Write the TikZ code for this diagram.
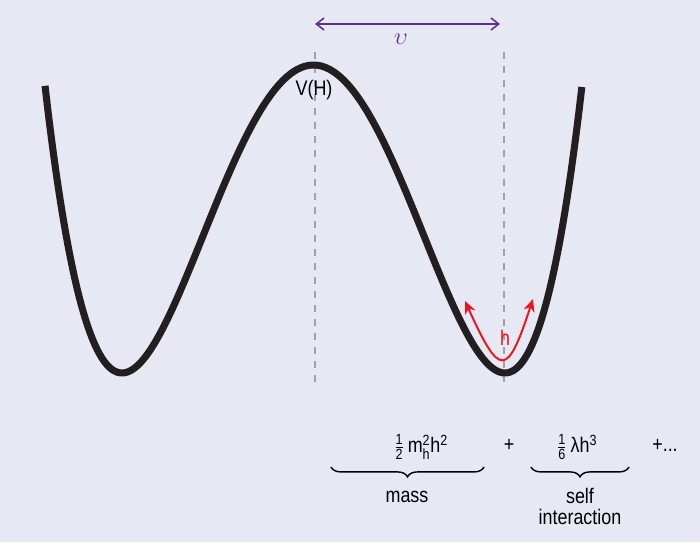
\documentclass[tikz,border=0pt]{standalone}
\usepackage{amsmath}
\usepackage{fontspec}
\setmainfont[FakeStretch=0.85]{Liberation Sans}
\usetikzlibrary{calc}
\usetikzlibrary{arrows.meta}
\usetikzlibrary{decorations.pathreplacing}

\definecolor{bgpaper}{RGB}{230,232,244}
\definecolor{vevpurple}{RGB}{93,46,140}
\definecolor{hred}{RGB}{235,22,28}
\definecolor{guidegray}{RGB}{160,161,172}
\definecolor{potblack}{RGB}{35,31,32}

\begin{document}
\begin{tikzpicture} [x=0.025cm, y=-0.025cm,
  guide/.style={guidegray, line width=1pt, dash pattern=on 5pt off 5pt},
  brc/.style={decorate, decoration={brace, mirror, amplitude=7pt}, line width=1pt},
  txt/.style={font=\fontsize{15}{15}\selectfont, inner sep=0pt}]
\fill[bgpaper] (0,0) rectangle (700,542);
\useasboundingbox (0,0) rectangle (700,542);

\foreach \gx in {315, 504}
\draw[guide] (\gx,52) -- (\gx,382);

\draw[domain=-1.402:1.402, samples=150, smooth, variable=\u, potblack, line width=5pt]
plot ({313.5+191.5*\u},{373-308*(\u*\u-1)^2});

\coordinate (vevl) at (315,24);
\coordinate (vevr) at (500,24);
\draw[vevpurple, line width=1.1pt, {Straight Barb[length=5.5pt,width=8.5pt]}-{Straight Barb[length=5.5pt,width=8.5pt]}] (vevl) -- (vevr);
\node[txt, vevpurple, font=\fontsize{19}{19}\selectfont] (vev) at (401,39) {$\upsilon$};
\node[txt] (pot) at (314,90) {V(H)};

\coordinate (htipl) at (465,301);
\coordinate (htipr) at (533,299);
\draw[hred, line width=1.4pt, {Stealth[length=9pt,width=8pt]}-{Stealth[length=9pt,width=8pt]}]
(htipl) .. controls (500,378) and (507,378) .. (htipr);
\node[txt, hred] (hlab) at (505,338) {h};

\node[txt] (massterm) at (421,447) {$\frac{\text{1}}{\text{2}}$\,m$^{\text{2}}_{\text{h}}$h$^{\text{2}}$};
\node[txt] (plusa) at (509,445) {+};
\node[txt] (selfterm) at (577,447) {$\frac{\text{1}}{\text{6}}$\,λh$^{\text{3}}$};
\node[txt] (plusb) at (665,445) {+...};

\coordinate (massl) at (331,467);
\coordinate (massr) at (484,467);
\coordinate (selfl) at (531,467);
\coordinate (selfr) at (629,467);
\draw[brc] (massl) -- (massr);
\draw[brc] (selfl) -- (selfr);
\node[txt, anchor=base] (masslab) at (407,502) {mass};
\node[txt, anchor=north, align=center] (selflab) at (580,488) {self\\interaction};

\end{tikzpicture}
\end{document}
